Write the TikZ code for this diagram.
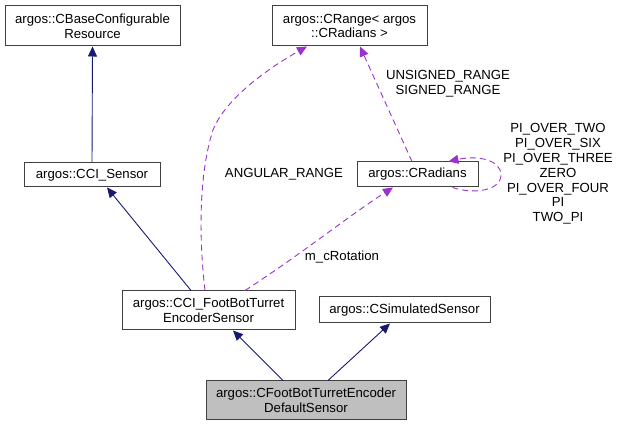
\documentclass[tikz,border=0pt]{standalone}
\usepackage{fontspec}
\setmainfont{Liberation Sans}
\usetikzlibrary{arrows.meta,calc}
\definecolor{inh}{HTML}{191970}
\definecolor{use}{HTML}{9A32CD}
\definecolor{bord}{HTML}{404040}
\definecolor{hl}{HTML}{BFBFBF}
\begin{document}
\begin{tikzpicture}[x=1pt,y=-1pt,
  every node/.style={font=\fontsize{13.2pt}{14.8pt}\selectfont, inner sep=0pt},
  cls/.style={draw=bord, line width=1pt, fill=white, align=center},
  inhedge/.style={draw=inh, line width=0.9pt, -{Triangle[length=10pt,width=9pt]}},
  useedge/.style={draw=use, line width=0.9pt, dash pattern=on 6pt off 4pt, -{Triangle[length=10pt,width=9pt]}},
  lbl/.style={align=center}]
\useasboundingbox (0,0) rectangle (619,427);
\node[cls, minimum width=175pt, minimum height=40pt] (base) at (92.5,26) {argos::CBaseConfigurable\\Resource};
\node[cls, minimum width=155pt, minimum height=40pt] (range) at (349.5,26) {argos::CRange\textless{} argos\\::CRadians \textgreater};
\node[cls, minimum width=136pt, minimum height=24pt] (ccis) at (92,175) {argos::CCI\_Sensor};
\node[cls, minimum width=121pt, minimum height=25pt] (rad) at (417.5,174.5) {argos::CRadians};
\node[cls, minimum width=173pt, minimum height=39pt] (fbt) at (208.5,310.5) {argos::CCI\_FootBotTurret\\EncoderSensor};
\node[cls, minimum width=171pt, minimum height=26pt] (sim) at (404.5,310) {argos::CSimulatedSensor};
\node[cls, fill=hl, minimum width=200pt, minimum height=39pt] (def) at (306,400.5) {argos::CFootBotTurretEncoder\\DefaultSensor};

\draw[inhedge] (ccis.north) -- (base.south);
\draw[inhedge] ([xshift=-17.5pt]fbt.north) -- ([xshift=15pt]ccis.south);
\draw[inhedge] ([xshift=-23pt]def.north) -- ([xshift=24.5pt]fbt.south);
\draw[inhedge] ([xshift=22pt]def.north) -- ([xshift=-14.5pt]sim.south);

\draw[useedge] ([xshift=-3.5pt]fbt.north) .. controls (198,230) and (200,170) .. (213,130)
  .. controls (225,100) and (265,70) .. ([xshift=-42.5pt]range.south);
\node[lbl] (lang) at (284,174) {ANGULAR\_RANGE};

\draw[useedge] ([xshift=36.5pt]fbt.north) .. controls (300,255) and (350,215) .. ([xshift=-24.5pt]rad.south);
\node[lbl] (lrot) at (342,257) {m\_cRotation};

\draw[useedge] ([xshift=-5.5pt]rad.north) -- ([xshift=10.5pt]range.south);
\node[lbl] (lrng) at (448,83.5) {UNSIGNED\_RANGE\\SIGNED\_RANGE};

\draw[useedge] ([xshift=35pt]rad.south) .. controls (475,195) and (501,190) .. (501,175)
  .. controls (501,160) and (478,155) .. ([xshift=31pt]rad.north);
\node[lbl] (lself) at (558,174) {PI\_OVER\_TWO\\PI\_OVER\_SIX\\PI\_OVER\_THREE\\ZERO\\PI\_OVER\_FOUR\\PI\\TWO\_PI};
\end{tikzpicture}
\end{document}
